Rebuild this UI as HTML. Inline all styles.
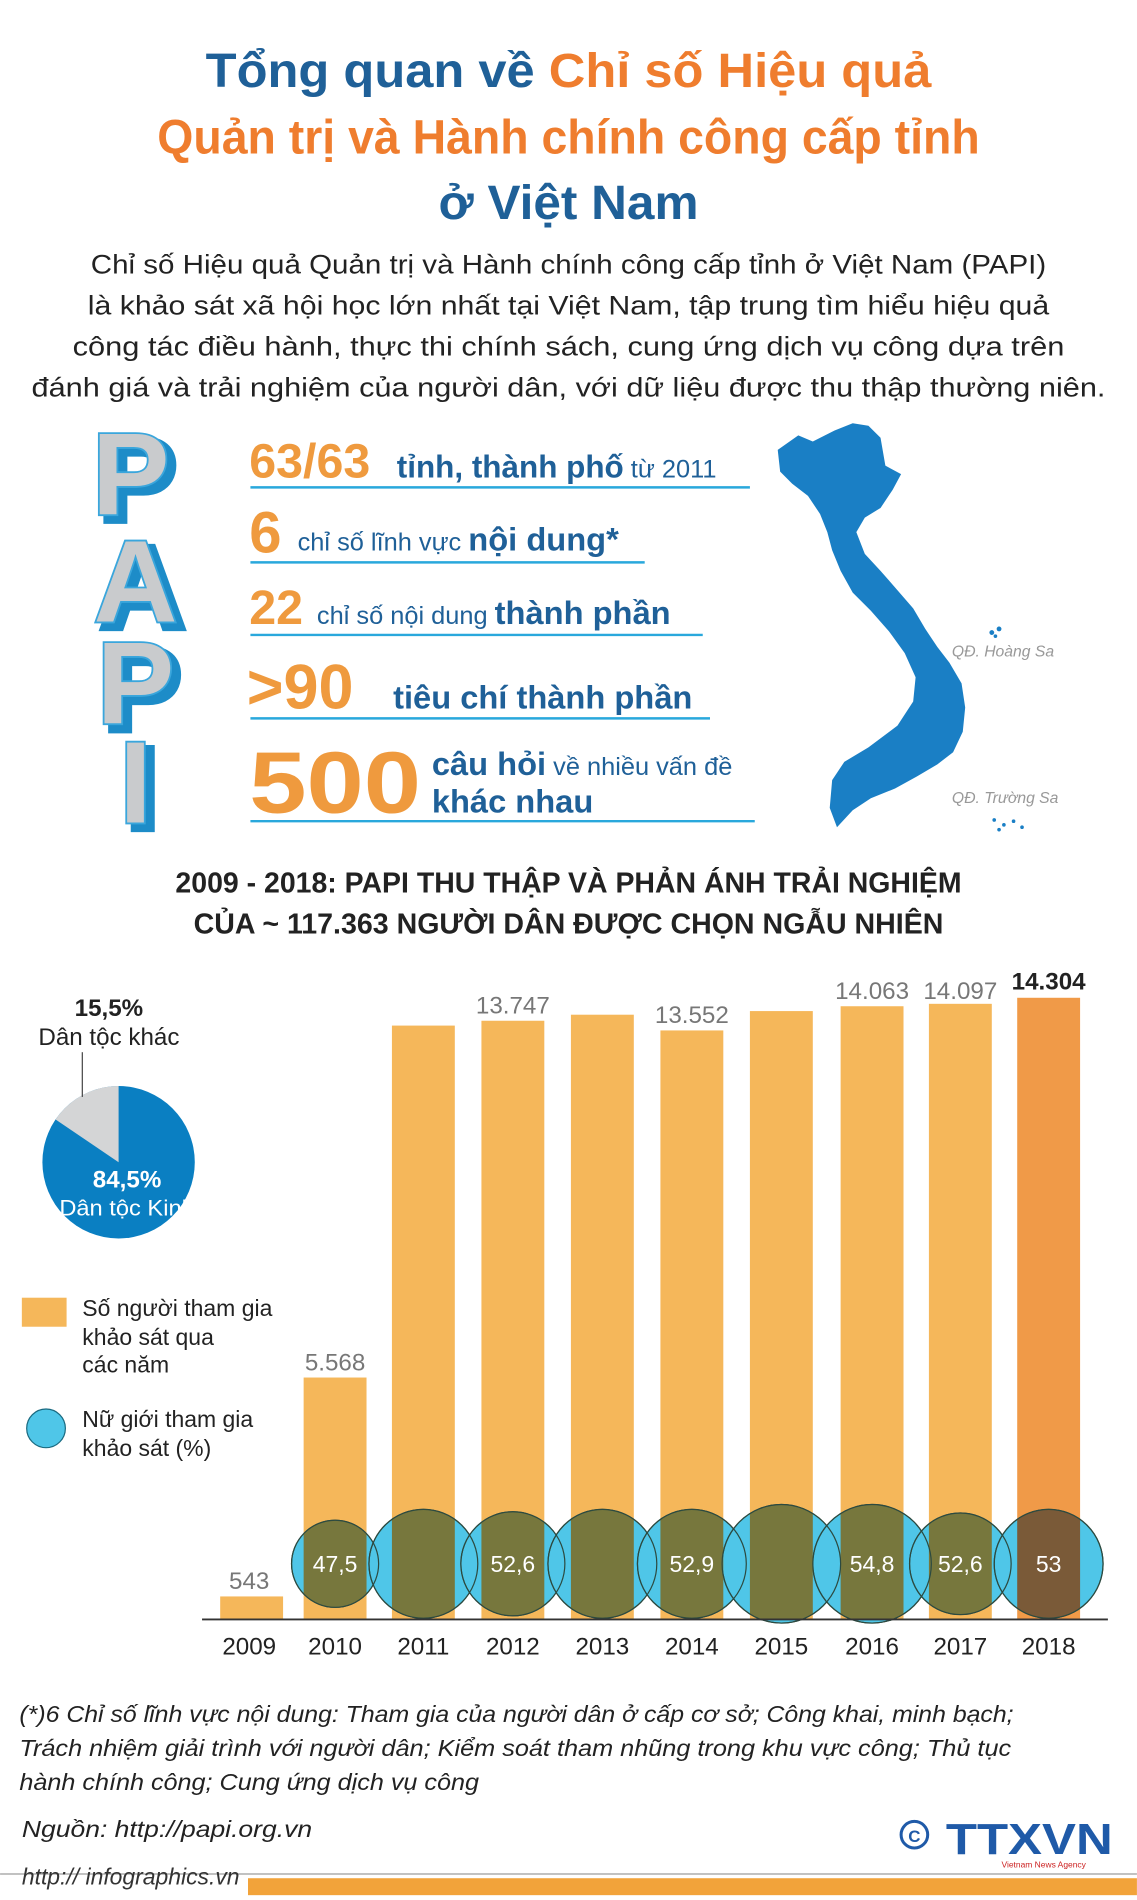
<!DOCTYPE html>
<html><head><meta charset="utf-8"><style>
html,body{margin:0;padding:0;background:#fff;}
svg{display:block;font-family:"Liberation Sans",sans-serif;}
</style></head><body>
<svg width="1137" height="1900" viewBox="0 0 940 1571" xmlns="http://www.w3.org/2000/svg">
<rect width="940" height="1571" fill="#fff"/>
<!-- Title -->
<g font-weight="bold" font-size="40" text-anchor="middle">
<text x="470" y="72" textLength="600" lengthAdjust="spacingAndGlyphs"><tspan fill="#1f6098">Tổng quan về </tspan><tspan fill="#ef7d2e">Chỉ số Hiệu quả</tspan></text>
<text x="470" y="127" fill="#ef7d2e" textLength="680" lengthAdjust="spacingAndGlyphs">Quản trị và Hành chính công cấp tỉnh</text>
<text x="470" y="181" fill="#1f6098" textLength="215" lengthAdjust="spacingAndGlyphs">ở Việt Nam</text>
</g>
<g font-size="22" fill="#222" text-anchor="middle">
<text x="470" y="226" textLength="790" lengthAdjust="spacingAndGlyphs">Chỉ số Hiệu quả Quản trị và Hành chính công cấp tỉnh ở Việt Nam (PAPI)</text>
<text x="470" y="260" textLength="795" lengthAdjust="spacingAndGlyphs">là khảo sát xã hội học lớn nhất tại Việt Nam, tập trung tìm hiểu hiệu quả</text>
<text x="470" y="294" textLength="820" lengthAdjust="spacingAndGlyphs">công tác điều hành, thực thi chính sách, cung ứng dịch vụ công dựa trên</text>
<text x="470" y="328" textLength="888" lengthAdjust="spacingAndGlyphs">đánh giá và trải nghiệm của người dân, với dữ liệu được thu thập thường niên.</text>
</g>
<!-- PAPI letters -->
<g font-weight="bold" font-size="96" text-anchor="middle">
<g fill="#1d8cc8" stroke="#1d8cc8" stroke-width="6">
<text x="114" y="430">P</text><text x="118" y="519">A</text><text x="118" y="603">P</text><text x="118" y="685">I</text>
</g>
<g fill="#c9cbcd" stroke="#3aa6dc" stroke-width="3" paint-order="stroke">
<text x="108" y="425">P</text><text x="112" y="514">A</text><text x="112" y="598">P</text><text x="112" y="680">I</text>
</g>
</g>
<!-- stats -->
<g font-weight="bold">
<text x="206" y="395" font-size="40" fill="#ef9a3e">63/63</text>
<text x="328" y="395" font-size="26" fill="#1f6098">tỉnh, thành phố<tspan font-weight="normal" font-size="21"> từ 2011</tspan></text>
<line x1="207" y1="403" x2="620" y2="403" stroke="#29a8dc" stroke-width="2"/>
<text x="206" y="457" font-size="48" fill="#ef9a3e">6</text>
<text x="246" y="455" font-size="21" font-weight="normal" fill="#1f6098">chỉ số lĩnh vực <tspan font-weight="bold" font-size="27">nội dung*</tspan></text>
<line x1="207" y1="465" x2="533" y2="465" stroke="#29a8dc" stroke-width="2"/>
<text x="206" y="516" font-size="40" fill="#ef9a3e">22</text>
<text x="262" y="516" font-size="21" font-weight="normal" fill="#1f6098">chỉ số nội dung <tspan font-weight="bold" font-size="27">thành phần</tspan></text>
<line x1="207" y1="525" x2="581" y2="525" stroke="#29a8dc" stroke-width="2"/>
<text x="204" y="586" font-size="52" fill="#ef9a3e">&gt;90</text>
<text x="325" y="586" font-size="27" fill="#1f6098">tiêu chí thành phần</text>
<line x1="207" y1="594" x2="587" y2="594" stroke="#29a8dc" stroke-width="2"/>
<text x="206" y="672" font-size="72" fill="#ef9a3e" textLength="142" lengthAdjust="spacingAndGlyphs">500</text>
<text x="357" y="641" font-size="27" fill="#1f6098">câu hỏi<tspan font-weight="normal" font-size="21"> về nhiều vấn đề</tspan></text>
<text x="357" y="672" font-size="27" fill="#1f6098">khác nhau</text>
<line x1="207" y1="679" x2="624" y2="679" stroke="#29a8dc" stroke-width="2"/>
</g>
<!-- map -->
<path fill="#1a7fc5" d="M643 372 L660 360 L672 365 L690 356 L705 350 L718 352 L728 362 L732 385 L745 392 L738 405 L728 420 L715 428 L708 440 L715 458 L728 472 L742 488 L755 503 L765 520 L775 535 L785 548 L795 565 L798 585 L796 605 L788 622 L775 632 L758 642 L740 652 L720 660 L705 670 L692 684 L686 668 L688 645 L698 630 L718 618 L742 600 L755 580 L757 560 L748 540 L735 522 L720 505 L705 490 L695 472 L688 455 L684 440 L678 425 L668 410 L655 400 L645 390 Z"/>
<g font-size="13" font-style="italic" fill="#999">
<text x="787" y="543">QĐ. Hoàng Sa</text>
<text x="787" y="664">QĐ. Trường Sa</text>
</g>
<g fill="#1a7fc5"><circle cx="820" cy="523" r="2"/><circle cx="826" cy="520" r="2"/><circle cx="823" cy="526" r="1.5"/><circle cx="822" cy="678" r="1.5"/><circle cx="830" cy="682" r="1.5"/><circle cx="838" cy="679" r="1.5"/><circle cx="826" cy="686" r="1.5"/><circle cx="845" cy="684" r="1.5"/></g>
<!-- heading -->
<g font-weight="bold" font-size="24" fill="#222" text-anchor="middle">
<text x="470" y="738" textLength="650" lengthAdjust="spacingAndGlyphs">2009 - 2018: PAPI THU THẬP VÀ PHẢN ÁNH TRẢI NGHIỆM</text>
<text x="470" y="772" textLength="620" lengthAdjust="spacingAndGlyphs">CỦA ~ 117.363 NGƯỜI DÂN ĐƯỢC CHỌN NGẪU NHIÊN</text>
</g>
<!-- pie -->
<circle cx="98" cy="961" r="63" fill="#0a7fc2"/>
<path d="M98 961 L98 898 A63 63 0 0 0 45.9 925.6 Z" fill="#d4d5d6"/>
<line x1="68" y1="870" x2="68" y2="907" stroke="#444" stroke-width="1"/>
<text x="90" y="840" font-size="20" font-weight="bold" fill="#222" text-anchor="middle">15,5%</text>
<text x="90" y="864" font-size="20" fill="#222" text-anchor="middle">Dân tộc khác</text>
<text x="105" y="982" font-size="20" font-weight="bold" fill="#fff" text-anchor="middle">84,5%</text>
<text x="105" y="1005" font-size="18" fill="#fff" text-anchor="middle" textLength="112" lengthAdjust="spacingAndGlyphs">Dân tộc Kinh</text>
<!-- legend -->
<rect x="18" y="1073" width="37" height="24" fill="#f5b75a"/>
<g font-size="19" fill="#222"><text x="68" y="1088">Số người tham gia</text><text x="68" y="1112">khảo sát qua</text><text x="68" y="1135">các năm</text>
<text x="68" y="1180">Nữ giới tham gia</text><text x="68" y="1204">khảo sát (%)</text></g>
<circle cx="38" cy="1181" r="16" fill="#4fc6e8" stroke="#1a6a80" stroke-width="1"/>
<!-- bars -->
<defs>
<clipPath id="b0"><rect x="251" y="1139" width="52" height="200"/></clipPath>
<clipPath id="b1"><rect x="324" y="848" width="52" height="491"/></clipPath>
<clipPath id="b2"><rect x="398" y="844" width="52" height="495"/></clipPath>
<clipPath id="b3"><rect x="472" y="839" width="52" height="500"/></clipPath>
<clipPath id="b4"><rect x="546" y="852" width="52" height="487"/></clipPath>
<clipPath id="b5"><rect x="620" y="836" width="52" height="503"/></clipPath>
<clipPath id="b6"><rect x="695" y="832" width="52" height="507"/></clipPath>
<clipPath id="b7"><rect x="768" y="830" width="52" height="509"/></clipPath>
<clipPath id="b8"><rect x="841" y="825" width="52" height="514"/></clipPath>
</defs>
<g fill="#f5b75a">
<rect x="182" y="1320" width="52" height="19"/>
<rect x="251" y="1139" width="52" height="200"/>
<rect x="324" y="848" width="52" height="491"/>
<rect x="398" y="844" width="52" height="495"/>
<rect x="472" y="839" width="52" height="500"/>
<rect x="546" y="852" width="52" height="487"/>
<rect x="620" y="836" width="52" height="503"/>
<rect x="695" y="832" width="52" height="507"/>
<rect x="768" y="830" width="52" height="509"/>
<rect x="841" y="825" width="52" height="514" fill="#f09a48"/>
</g>
<g fill="#4fc6e8" stroke="#2c4a40" stroke-width="1" fill-opacity="1">
<circle cx="277" cy="1293" r="36"/>
<circle cx="350" cy="1293" r="45"/>
<circle cx="424" cy="1293" r="43"/>
<circle cx="498" cy="1293" r="45"/>
<circle cx="572" cy="1293" r="45"/>
<circle cx="646" cy="1293" r="49"/>
<circle cx="721" cy="1293" r="49"/>
<circle cx="794" cy="1293" r="42"/>
<circle cx="867" cy="1293" r="45"/>
</g>
<g fill="#77773d">
<circle cx="277" cy="1293" r="36" clip-path="url(#b0)"/>
<circle cx="350" cy="1293" r="45" clip-path="url(#b1)"/>
<circle cx="424" cy="1293" r="43" clip-path="url(#b2)"/>
<circle cx="498" cy="1293" r="45" clip-path="url(#b3)"/>
<circle cx="572" cy="1293" r="45" clip-path="url(#b4)"/>
<circle cx="646" cy="1293" r="49" clip-path="url(#b5)"/>
<circle cx="721" cy="1293" r="49" clip-path="url(#b6)"/>
<circle cx="794" cy="1293" r="42" clip-path="url(#b7)"/>
<circle cx="867" cy="1293" r="45" clip-path="url(#b8)" fill="#7a5a38"/>
</g>
<g fill="none" stroke="#2c4a40" stroke-width="1">
<circle cx="277" cy="1293" r="36"/><circle cx="350" cy="1293" r="45"/><circle cx="424" cy="1293" r="43"/><circle cx="498" cy="1293" r="45"/><circle cx="572" cy="1293" r="45"/><circle cx="646" cy="1293" r="49"/><circle cx="721" cy="1293" r="49"/><circle cx="794" cy="1293" r="42"/><circle cx="867" cy="1293" r="45"/>
</g>
<g font-size="19" fill="#fff" text-anchor="middle">
<text x="277" y="1300">47,5</text><text x="424" y="1300">52,6</text><text x="572" y="1300">52,9</text><text x="721" y="1300">54,8</text><text x="794" y="1300">52,6</text><text x="867" y="1300">53</text>
</g>
<line x1="167" y1="1339" x2="916" y2="1339" stroke="#333" stroke-width="1.5"/>
<g font-size="20" fill="#777" text-anchor="middle">
<text x="206" y="1314">543</text><text x="277" y="1133">5.568</text><text x="424" y="838">13.747</text><text x="572" y="846">13.552</text><text x="721" y="826">14.063</text><text x="794" y="826">14.097</text>
</g>
<text x="867" y="818" font-size="20" font-weight="bold" fill="#222" text-anchor="middle">14.304</text>
<g font-size="20" fill="#222" text-anchor="middle">
<text x="206" y="1368">2009</text><text x="277" y="1368">2010</text><text x="350" y="1368">2011</text><text x="424" y="1368">2012</text><text x="498" y="1368">2013</text><text x="572" y="1368">2014</text><text x="646" y="1368">2015</text><text x="721" y="1368">2016</text><text x="794" y="1368">2017</text><text x="867" y="1368">2018</text>
</g>
<!-- footnote -->
<g font-size="19" font-style="italic" fill="#222">
<text x="16" y="1424" textLength="822" lengthAdjust="spacingAndGlyphs">(*)6 Chỉ số lĩnh vực nội dung: Tham gia của người dân ở cấp cơ sở;  Công khai, minh bạch;</text>
<text x="16" y="1452" textLength="820" lengthAdjust="spacingAndGlyphs">Trách nhiệm giải trình với người dân; Kiểm soát tham nhũng trong khu vực công; Thủ tục</text>
<text x="16" y="1480" textLength="380" lengthAdjust="spacingAndGlyphs">hành chính công; Cung ứng dịch vụ công</text>
<text x="18" y="1519" textLength="240" lengthAdjust="spacingAndGlyphs">Nguồn: http://papi.org.vn</text>
</g>
<!-- logo -->
<circle cx="756" cy="1517" r="11" fill="none" stroke="#1f5aa8" stroke-width="2.5"/>
<text x="756" y="1523" font-size="14" font-weight="bold" fill="#1f5aa8" text-anchor="middle">C</text>
<text x="782" y="1533" font-size="36" font-weight="bold" fill="#1f5aa8" textLength="138" lengthAdjust="spacingAndGlyphs">TTXVN</text>
<text x="828" y="1544" font-size="7" fill="#c22" >Vietnam News Agency</text>
<!-- bottom -->
<rect x="0" y="1549" width="940" height="1" fill="#999"/>
<rect x="205" y="1553" width="735" height="14" fill="#f2a33a"/>
<text x="18" y="1558" font-size="19" font-style="italic" fill="#333" textLength="180" lengthAdjust="spacingAndGlyphs">http:// infographics.vn</text>
</svg>
</body></html>
